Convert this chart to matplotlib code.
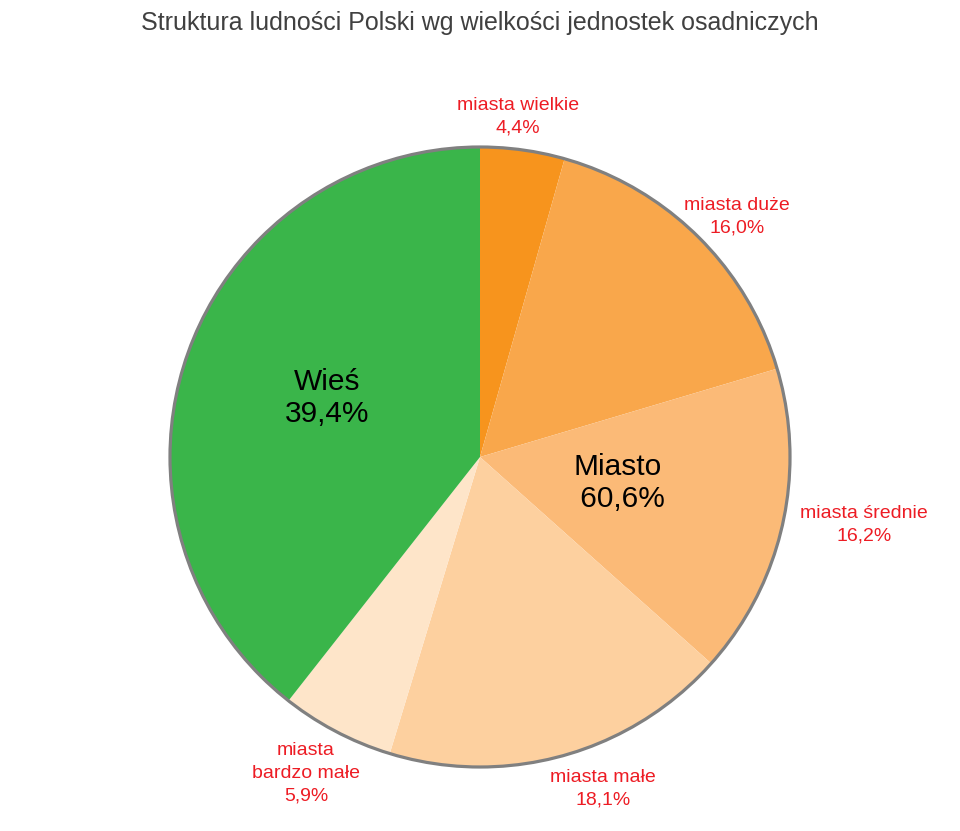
import matplotlib.pyplot as plt
from matplotlib.patches import Circle

plt.rcParams['font.family'] = ['Liberation Sans', 'DejaVu Sans']

# Dane: udział ludności wg wielkości jednostek osadniczych (%)
kategorie = ['miasta wielkie', 'miasta duże', 'miasta średnie',
             'miasta małe', 'miasta\nbardzo małe', 'Wieś']
wartosci = [4.4, 16.0, 16.2, 18.1, 5.9, 39.4]
kolory = ['#F7941D', '#F9A74B', '#FBBA77', '#FDD09F', '#FEE5C9', '#3AB54A']
miasto_suma = 60.6

# Położenie etykiet w pikselach (układ)
pozycje_etykiet = [(518, 117), (737, 217), (864, 525), (603, 789), (306, 773)]

W, H = 960, 831
fig = plt.figure(figsize=(W / 100, H / 100), dpi=100)
ax = fig.add_axes([0, 0, 1, 1])

cx, cy, r = 480, H - 457, 310
ax.pie(wartosci, colors=kolory, startangle=90, counterclock=False,
       center=(cx, cy), radius=r, wedgeprops=dict(linewidth=0),
       frame=True)
ax.set_xlim(0, W)
ax.set_ylim(0, H)
ax.set_aspect('equal')
ax.axis('off')
ax.add_patch(Circle((cx, cy), r, fill=False, edgecolor='#808080', linewidth=2.3))

def fmt(v):
    return f'{v:.1f}'.replace('.', ',') + '%'

for nazwa, v, (x, y) in zip(kategorie, wartosci[:5], pozycje_etykiet):
    ax.text(x, H - y, f'{nazwa}\n{fmt(v)}', color='#ED1C24', fontsize=14,
            ha='center', va='center', linespacing=1.45)

ax.text(327, H - 398, f'{kategorie[5]}\n{fmt(wartosci[5])}', color='black',
        fontsize=21.5, ha='center', va='center', linespacing=1.22)
ax.text(618, H - 483, f'Miasto\n {fmt(miasto_suma)}', color='black',
        fontsize=21.5, ha='center', va='center', linespacing=1.22)

ax.text(W / 2, H - 23, 'Struktura ludności Polski wg wielkości jednostek osadniczych',
        color='#404040', fontsize=18, ha='center', va='center')

fig.savefig('out.png', dpi=100, facecolor='white')
